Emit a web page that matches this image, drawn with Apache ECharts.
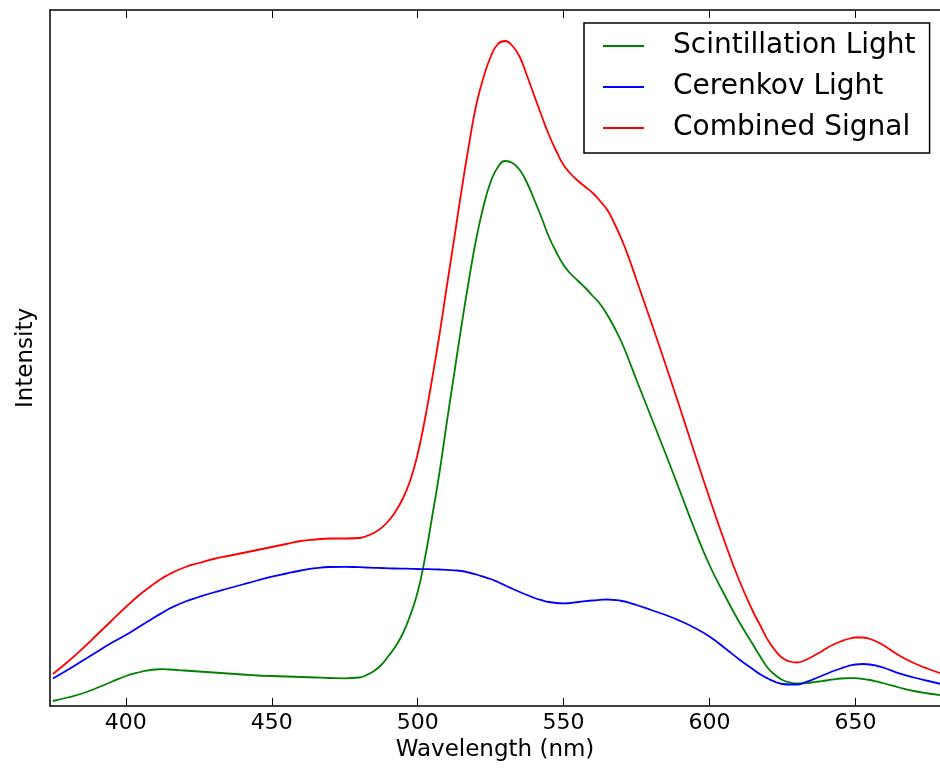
<!DOCTYPE html>
<html>
<head>
<meta charset="utf-8">
<script src="https://cdn.jsdelivr.net/npm/echarts@6/dist/echarts.min.js"></script>
<style>
html,body{margin:0;padding:0;background:#fff;}
#chart{width:940px;height:770px;}
</style>
</head>
<body>
<div id="chart"></div>
<script>
// Wavelength samples (nm)
const wavelengths = [
  375,380,385,390,395,400,405,
  407.5,410,412.5,415,
  420,425,430,435,440,445,450,455,460,465,470,475,480,
  482.5,485,487.5,490,492.5,495,497.5,500,
  502.5,505,507.5,510,512.5,515,517.5,520,
  522.5,525,527.5,530,532.5,535,537.5,540,
  542.5,545,547.5,550,552.5,555,557.5,560,
  562.5,565,567.5,570,572.5,575,
  580,585,590,595,600,605,610,615,
  617.5,620,622.5,625,627.5,630,632.5,635,
  637.5,640,642.5,645,647.5,650,652.5,655,657.5,660,
  665,670,675,680];

// Intensity (arbitrary units)
const scintillation = [
  5,8.5,12.5,18,24,30,34,
  35.5,36.5,36.8,36.5,
  35.5,34.5,33.5,32.5,31.5,30.5,30,29.5,29,28.5,28,27.7,28.5,
  31,35,41,50,60,73,91,114,
  148,190,234,284,332,380,425,466,
  499,524,539,545,543,536,523,506,
  488,469,454,441,432,425,418,410,
  402,391,378,363,345,326,
  289,252,214,176,141,112,85,61,
  49,38,31,26,23.5,22.5,22.7,23.5,
  24.5,25.5,26.6,27.5,27.8,27.8,27.1,26,24.3,22.5,
  18.5,15,12.5,10.5];

const cerenkov = [
  27.5,36,45,54,63,71,80,
  84.5,89,93.3,97.5,
  104,109,113.5,117.5,121.5,125.5,129.3,132.5,135.5,137.8,139,139.2,138.8,
  138.5,138.2,138,137.7,137.5,137.4,137.2,137,
  136.9,136.7,136.5,136.2,135.7,135,133.5,131.5,
  129.3,127,124,120.5,117.2,114,111,108,
  105.8,104,103,102.7,103,104,104.8,105.5,
  106.1,106.5,106,105,103.2,101,
  96,91,85,78,69.5,58.5,47,36.5,
  31.5,27.5,24.2,22,21.5,21.5,23.5,26,
  29,32,35,37.5,40,41.5,42,41.5,40,38,
  32.7,28.5,25,21.5];

const combined = [
  32,44,57,71,85,99,112,
  117.5,123,127.8,132,
  138.5,143,147,150,153,156,159,162,165,166.5,167.5,167.5,168,
  170,173,178,185,195,208,226,252,
  287,328,372,420,467,515,560,600,
  628,649,662,665,660,649,630,610,
  590,571,555,541,532,525,519,513,
  505,496,482,466,447,426,
  384,341,297,252,208,166,127,94,
  80,66,55.5,48,44.5,43.5,45.5,49,
  53,57.5,61.5,64.5,67,68.5,68.5,67,64,60,
  50.5,43,37,32];

const seriesNames = ['Scintillation Light','Cerenkov Light','Combined Signal'];
const seriesColors = ['#008000','#0000ff','#ff0000'];
const tickValues = [400,450,500,550,600,650];

function pairs(ys){ return wavelengths.map((x,i)=>[x,ys[i]]); }

const chart = echarts.init(document.getElementById('chart'), null, {renderer:'canvas'});
const font = 'DejaVu Sans';

const mkSeries = (name, data, color) => ({
  name, type:'line', data: pairs(data), smooth:0.5,
  symbol:'none', showSymbol:false, clip:true,
  lineStyle:{color, width:1.8}, itemStyle:{color},
  xAxisIndex:0, yAxisIndex:0, animation:false
});

chart.setOption({
  animation:false,
  backgroundColor:'#fff',
  grid:{left:50, right:0, top:10, bottom:64, containLabel:false},
  legend:{
    orient:'vertical', left:584, top:23,
    padding:[8,14,10,19],
    backgroundColor:'#fff',
    borderColor:'#000', borderWidth:1.5,
    itemWidth:41, itemHeight:2, itemGap:11,
    icon:'rect',
    textStyle:{fontFamily:font, fontSize:28, color:'#000', lineHeight:30, padding:[0,0,0,24]},
    data: seriesNames.map((n,i)=>({name:n, icon:'rect', itemStyle:{color:seriesColors[i]}}))
  },
  xAxis:[{
    type:'value', min:374, max:679, position:'bottom',
    name:'Wavelength (nm)', nameLocation:'middle', nameGap:30,
    nameTextStyle:{fontFamily:font, fontSize:23, color:'#000'},
    axisLine:{show:true, onZero:false, lineStyle:{color:'#000', width:1.5}},
    axisTick:{show:true, inside:true, length:8, customValues:tickValues, lineStyle:{color:'#000', width:1}},
    axisLabel:{show:true, customValues:tickValues, fontFamily:font, fontSize:22, color:'#000', margin:6},
    splitLine:{show:false}
  },{
    type:'value', min:374, max:679, position:'top',
    axisLine:{show:true, onZero:false, lineStyle:{color:'#000', width:1.5}},
    axisTick:{show:true, inside:true, length:8, customValues:tickValues, lineStyle:{color:'#000', width:1}},
    axisLabel:{show:false},
    splitLine:{show:false}
  }],
  yAxis:[{
    type:'value', min:0, max:696, position:'left',
    name:'Intensity', nameLocation:'middle', nameGap:12, nameRotate:90,
    nameTextStyle:{fontFamily:font, fontSize:23, color:'#000'},
    axisLine:{show:true, onZero:false, lineStyle:{color:'#000', width:1.5}},
    axisTick:{show:false}, axisLabel:{show:false}, splitLine:{show:false}
  }],
  series:[
    mkSeries(seriesNames[0], scintillation, seriesColors[0]),
    mkSeries(seriesNames[1], cerenkov, seriesColors[1]),
    mkSeries(seriesNames[2], combined, seriesColors[2])
  ]
});
</script>
</body>
</html>
